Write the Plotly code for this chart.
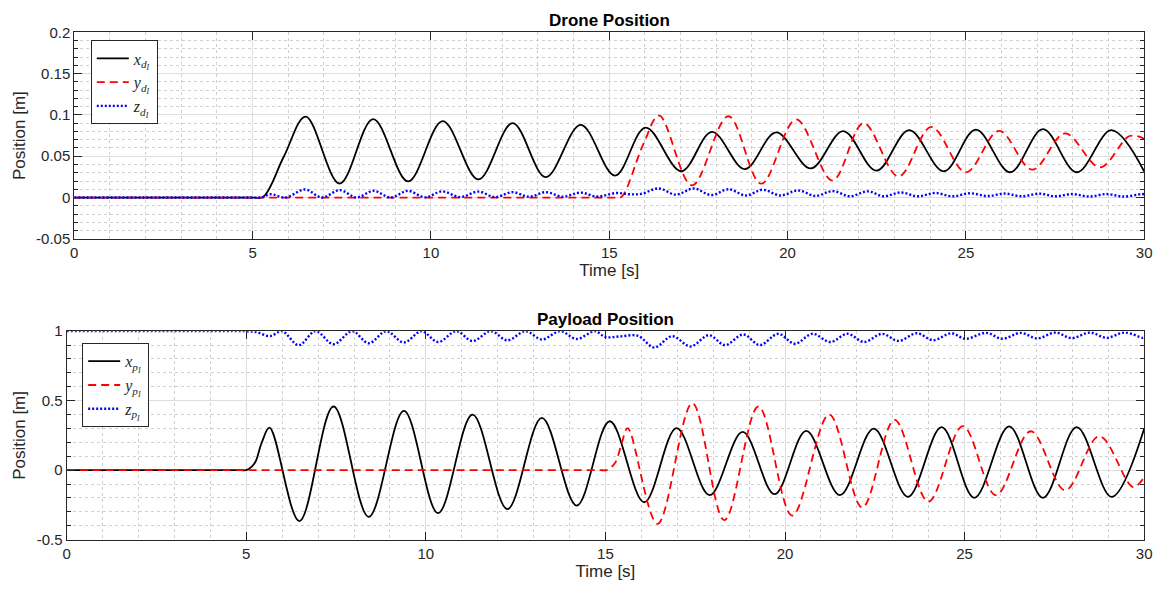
import plotly.graph_objects as go

# ---------------- Drone position (top) ----------------
t_xd = [0, 4.0, 5.0, 5.3, 5.88, 6.49, 7.44, 8.38, 9.36, 10.33, 11.33, 12.29, 13.22, 14.2,
        15.16, 16.02, 17.02, 17.88, 18.8, 19.68, 20.65, 21.56, 22.49, 23.41, 24.38, 25.28, 26.24,
        27.16, 28.11, 29.08, 30.0]
x_d = [0, 0, 0, 0.001, 0.05, 0.098, 0.0168, 0.095, 0.0196, 0.0925, 0.0219, 0.090, 0.0247,
       0.088, 0.0266, 0.0847, 0.0318, 0.0795, 0.0345, 0.0788, 0.0353, 0.0804, 0.0325, 0.0815,
       0.0318, 0.0823, 0.0306, 0.0827, 0.0306, 0.0815, 0.0315]

t_yd = [0, 5.0, 10.0, 14.6, 15.0, 15.2, 15.35, 15.96, 16.4, 17.32, 18.34, 19.26, 20.24, 21.26,
        22.13, 23.11, 24.03, 25.0, 25.93, 26.86, 27.78, 28.76, 29.59, 30.0]
y_d = [0, 0, 0, 0, 0, 0, 0.001, 0.065, 0.0992, 0.0148, 0.0984, 0.0168, 0.0945, 0.0207, 0.090,
       0.0254, 0.0855, 0.0306, 0.0807, 0.0337, 0.0776, 0.0365, 0.0745, 0.071]

t_zd = [0, 4.0, 5.0, 5.25, 5.5, 5.93, 6.47, 6.95, 7.44, 7.92, 8.39, 8.87, 9.35, 9.84, 10.31, 10.82, 11.33,
        11.8, 12.29, 12.75, 13.22, 13.7, 14.2, 14.65, 15.2, 15.55, 15.9, 16.39, 16.87, 17.37,
        17.86, 18.35, 18.83, 19.3, 19.8, 20.3, 20.78, 21.27, 21.75, 22.25, 22.7, 23.17, 23.65,
        24.14, 24.62, 25.12, 25.6, 26.09, 26.56, 27.06, 27.5, 27.98, 28.45, 28.95, 29.42, 29.92, 30.0]
z_d = [0, 0, 0, 0, 0.004, 0, 0.0098, 0, 0.009, 0, 0.0082, 0, 0.0081, 0.0002, 0.0075, 0.0005, 0.0072,
       0.0005, 0.0065, 0.001, 0.0065, 0.001, 0.006, 0.0012, 0.0055, 0.004, 0.0045, 0.011, 0.0035,
       0.011, 0.003, 0.010, 0.0025, 0.0094, 0.0025, 0.0086, 0.002, 0.0078, 0.0015, 0.0075, 0.0015,
       0.0062, 0.0015, 0.0055, 0.0015, 0.0052, 0.0018, 0.0048, 0.0015, 0.0047, 0.0015, 0.0042,
       0.0012, 0.0042, 0.0012, 0.0042, 0.004]

# ---------------- Payload position (bottom) ----------------
t_xp = [0, 2.5, 4.5, 4.85, 5.02, 5.24, 5.42, 5.65, 6.48, 7.43, 8.41, 9.39, 10.34, 11.3, 12.27, 13.23,
        14.2, 15.12, 16.08, 16.98, 17.9, 18.82, 19.71, 20.59, 21.53, 22.47, 23.42, 24.36, 25.27,
        26.24, 27.18, 28.12, 29.09, 30.0]
x_p = [0, 0, 0, 0, 0.002, 0.053, 0.19, 0.306, -0.367, 0.458, -0.336, 0.427, -0.309, 0.399, -0.28,
       0.376, -0.255, 0.352, -0.231, 0.303, -0.18, 0.275, -0.173, 0.282, -0.18, 0.299, -0.192,
       0.31, -0.199, 0.315, -0.199, 0.31, -0.192, 0.30]

t_yp = [0, 5.0, 10.0, 14.5, 14.85, 15.05, 15.27, 15.45, 15.62, 16.45, 17.42, 18.31, 19.26, 20.2,
        21.23, 22.15, 23.05, 23.99, 24.95, 25.87, 26.84, 27.8, 28.75, 29.69, 30.0]
y_p = [0, 0, 0, 0, 0, 0.002, 0.053, 0.19, 0.303, -0.386, 0.481, -0.36, 0.458, -0.327, 0.40,
       -0.269, 0.362, -0.227, 0.317, -0.18, 0.28, -0.145, 0.245, -0.122, -0.05]

t_zp = [0, 2.5, 4.6, 5.0, 5.3, 5.66, 6.0, 6.46, 6.93, 7.43, 7.95, 8.41, 8.9, 9.39, 9.88, 10.34, 10.85,
        11.3, 11.81, 12.27, 12.78, 13.23, 13.74, 14.2, 14.71, 15.0, 15.4, 15.9, 16.36, 16.86, 17.37,
        17.88, 18.33, 18.84, 19.3, 19.81, 20.27, 20.77, 21.26, 21.74, 22.2, 22.7, 23.16, 23.67,
        24.12, 24.63, 25.02, 25.6, 26.05, 26.56, 27.02, 27.53, 27.98, 28.49, 28.95, 29.46, 29.96, 30.0]
z_p = [1, 1, 1, 1, 0.992, 0.964, 1.0, 0.899, 1.0, 0.906, 1.0, 0.913, 1.0, 0.918, 1.0, 0.922, 1.0,
       0.929, 1.0, 0.934, 1.0, 0.94, 1.0, 0.944, 1.0, 0.958, 0.962, 0.967, 0.883, 0.964, 0.89,
       0.971, 0.9, 0.976, 0.9, 0.981, 0.91, 0.981, 0.922, 0.981, 0.922, 0.981, 0.93, 0.985, 0.935,
       0.985, 0.945, 0.988, 0.945, 0.988, 0.948, 0.99, 0.95, 0.99, 0.952, 0.99, 0.952, 0.955]

x_ticks = [0, 5, 10, 15, 20, 25, 30]
top_yticks = [-0.05, 0, 0.05, 0.1, 0.15, 0.2]
top_ytext = ["-0.05", "0", "0.05", "0.1", "0.15", "0.2"]
bot_yticks = [-0.5, 0, 0.5, 1]
bot_ytext = ["-0.5", "0", "0.5", "1"]

W, H = 1173, 604
FONT = "Liberation Sans, Arial, sans-serif"
TXT = "#262626"
BLACK, RED, BLUE = "#000000", "#FF0000", "#0000FF"


def lab(base, sub):
    return ("<i>%s</i><sub><i>%s</i><sub><i>I</i></sub></sub>" % (base, sub))


fig = go.Figure()
LW = 1.8
fig.add_trace(go.Scatter(x=t_xd, y=x_d, mode="lines", line=dict(color=BLACK, width=LW, shape="spline"),
                         name=lab("x", "d"), xaxis="x", yaxis="y", legend="legend"))
fig.add_trace(go.Scatter(x=t_yd, y=y_d, mode="lines", line=dict(color=RED, width=LW, shape="spline", dash="8px,5px"),
                         name=lab("y", "d"), xaxis="x", yaxis="y", legend="legend"))
fig.add_trace(go.Scatter(x=t_zd, y=z_d, mode="lines", line=dict(color=BLUE, width=2.4, shape="spline", dash="2px,2px"),
                         name=lab("z", "d"), xaxis="x", yaxis="y", legend="legend"))

fig.add_trace(go.Scatter(x=t_xp, y=x_p, mode="lines", line=dict(color=BLACK, width=LW, shape="spline"),
                         name=lab("x", "p"), xaxis="x2", yaxis="y2", legend="legend2"))
fig.add_trace(go.Scatter(x=t_yp, y=y_p, mode="lines", line=dict(color=RED, width=LW, shape="spline", dash="8px,5px"),
                         name=lab("y", "p"), xaxis="x2", yaxis="y2", legend="legend2"))
fig.add_trace(go.Scatter(x=t_zp, y=z_p, mode="lines", line=dict(color=BLUE, width=2.4, shape="spline", dash="2px,2px"),
                         name=lab("z", "p"), xaxis="x2", yaxis="y2", legend="legend2"))


def xax(domain, anchor):
    return dict(domain=domain, anchor=anchor, range=[0, 30], tickmode="array", tickvals=x_ticks,
                ticks="inside", ticklen=8, tickcolor=TXT, tickwidth=1, showline=True, linecolor=TXT,
                linewidth=1, mirror="ticks", showgrid=True, gridcolor="#dedede", gridwidth=1,
                zeroline=False, tickfont=dict(family=FONT, size=15, color=TXT),
                title=dict(text="Time [s]", font=dict(family=FONT, size=17, color=TXT), standoff=4),
                minor=dict(tick0=0, dtick=1, showgrid=True, gridcolor="#d0d0d0", griddash="dot",
                           gridwidth=1, ticks=""))


def yax(domain, anchor, rng, tv, tt, mdt):
    return dict(domain=domain, anchor=anchor, range=rng, tickmode="array", tickvals=tv, ticktext=tt,
                ticks="inside", ticklen=8, tickcolor=TXT, tickwidth=1, showline=True, linecolor=TXT,
                linewidth=1, mirror="ticks", showgrid=True, gridcolor="#dedede", gridwidth=1,
                zeroline=False, tickfont=dict(family=FONT, size=15, color=TXT),
                title=dict(text="Position [m]", font=dict(family=FONT, size=17, color=TXT), standoff=6),
                minor=dict(tick0=0, dtick=mdt, showgrid=True, gridcolor="#d0d0d0", griddash="dot",
                           gridwidth=1, ticks="inside", ticklen=4, tickcolor=TXT))


fig.update_layout(
    width=W, height=H, margin=dict(l=0, r=0, t=0, b=0), autosize=False,
    paper_bgcolor="white", plot_bgcolor="white",
    font=dict(family=FONT, color=TXT),
    xaxis=xax([71 / W, 1152 / W], "y"),
    yaxis=yax([1 - 236.5 / H, 1 - 24 / H], "x", [-0.05, 0.2], top_yticks, top_ytext, 0.01),
    xaxis2=xax([63.3 / W, 1152 / W], "y2"),
    yaxis2=yax([1 - 546 / H, 1 - 331.5 / H], "x2", [-0.5, 1], bot_yticks, bot_ytext, 0.1),
    legend=dict(x=87.7 / W, y=1 - 32.3 / H, xanchor="left", yanchor="top", bgcolor="white",
                bordercolor=TXT, borderwidth=1, font=dict(family="Liberation Serif, serif", size=16, color=TXT),
                itemwidth=32, tracegroupgap=0),
    legend2=dict(x=79 / W, y=1 - 344 / H, xanchor="left", yanchor="top", bgcolor="white",
                 bordercolor=TXT, borderwidth=1, font=dict(family="Liberation Serif, serif", size=16, color=TXT),
                 itemwidth=32, tracegroupgap=0),
    annotations=[
        dict(text="<b>Drone Position</b>", x=(71 + 1152) / 2 / W, y=1 - 12 / H, xref="paper", yref="paper",
             showarrow=False, xanchor="center", yanchor="middle", font=dict(family=FONT, size=17, color="black")),
        dict(text="<b>Payload Position</b>", x=(63.3 + 1152) / 2 / W, y=1 - 319 / H, xref="paper", yref="paper",
             showarrow=False, xanchor="center", yanchor="middle", font=dict(family=FONT, size=17, color="black")),
    ],
    showlegend=True,
)

fig.write_html("out.html")
